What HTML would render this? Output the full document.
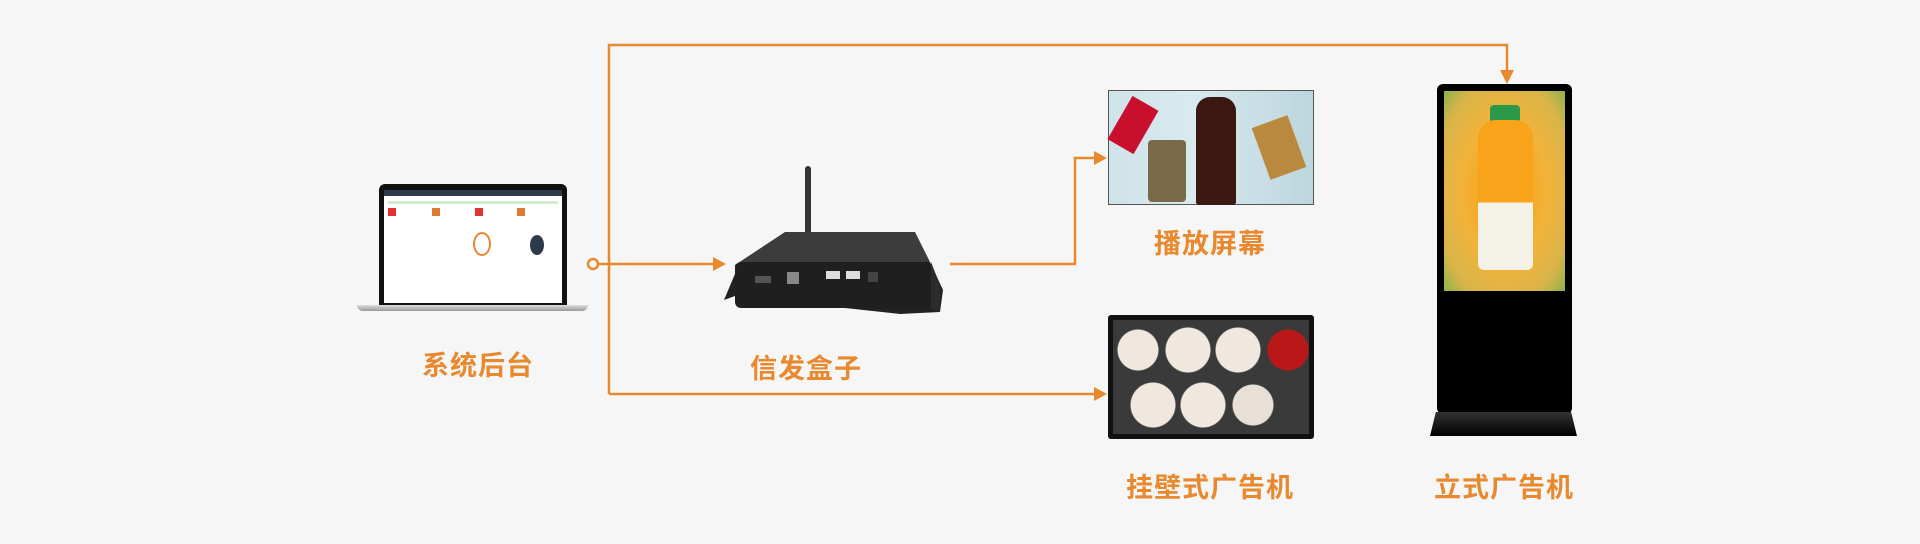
<!DOCTYPE html>
<html><head><meta charset="utf-8"><style>
body{margin:0;width:1920px;height:544px;background:#f6f6f6;position:relative;overflow:hidden;font-family:"Liberation Sans","Noto Sans CJK SC",sans-serif}
.a{position:absolute}
.lbl{position:absolute;color:#e8892f;font-size:27px;font-weight:bold;transform:translateX(-50%);white-space:nowrap;letter-spacing:1px}
</style></head><body>
<svg class="a" style="left:0;top:0" width="1920" height="544">
<g stroke="#e8892f" stroke-width="2.5" fill="none">
<polyline points="609,394 609,45 1507,45 1507,72"/>
<polyline points="609,394 1094,394"/>
<line x1="599" y1="264" x2="713" y2="264"/>
<polyline points="950,264 1075,264 1075,158 1094,158"/>
<circle cx="593" cy="264" r="5" fill="#f6f6f6"/>
</g>
<g fill="#e8892f">
<polygon points="1500,70 1514,70 1507,84"/>
<polygon points="713,257 713,271 726,264"/>
<polygon points="1094,151 1094,165 1107,158"/>
<polygon points="1094,387 1094,401 1107,394"/>
</g>
<!-- box -->
<rect x="805" y="166" width="6" height="118" rx="3" fill="#333"/>
<polygon points="735,265 785,232 915,232 930,262 930,300 735,290" fill="#3c3c3c"/>
<polygon points="724,300 740,262 930,262 943,290 940,312 900,314 735,296" fill="#222"/>
<rect x="735" y="262" width="196" height="46" rx="6" fill="#1f1f1f"/>
<polygon points="931,262 940,285 940,312 931,308" fill="#2c2c2c"/>
<rect x="755" y="276" width="16" height="7" fill="#555"/>
<rect x="787" y="272" width="12" height="12" fill="#888"/>
<rect x="826" y="271" width="14" height="8" fill="#ddd"/>
<rect x="846" y="271" width="14" height="8" fill="#ddd"/>
<rect x="868" y="272" width="10" height="10" fill="#444"/>
</svg>
<!-- laptop -->
<div class="a" style="left:379px;top:184px;width:188px;height:122px;background:#111;border-radius:6px 6px 0 0"></div>
<div class="a" style="left:384px;top:190px;width:178px;height:113px;background:#fff"></div>
<div class="a" style="left:384px;top:190px;width:178px;height:6px;background:#2d3a4a"></div>
<div class="a" style="left:388px;top:201px;width:170px;height:3px;background:#cfeccc"></div>
<div class="a" style="left:388px;top:208px;width:8px;height:8px;background:#e53333"></div>
<div class="a" style="left:432px;top:208px;width:8px;height:8px;background:#dd7a33"></div>
<div class="a" style="left:475px;top:208px;width:8px;height:8px;background:#e53333"></div>
<div class="a" style="left:517px;top:208px;width:8px;height:8px;background:#dd7a33"></div>
<div class="a" style="left:473px;top:232px;width:14px;height:20px;border:2px solid #e8892f;border-radius:50%"></div>
<div class="a" style="left:530px;top:235px;width:14px;height:20px;background:#2d3a4a;border-radius:50%"></div>
<div class="a" style="left:357px;top:305px;width:231px;height:6px;background:linear-gradient(#ddd,#999);border-radius:0 0 8px 8px"></div>
<!-- top screen -->
<div class="a" style="left:1108px;top:90px;width:206px;height:115px;background:linear-gradient(90deg,#cfe3ea,#d8eaee 40%,#bcd6de);border:1px solid #555;box-sizing:border-box"></div>
<div class="a" style="left:1118px;top:100px;width:30px;height:50px;background:#c8102e;transform:rotate(30deg)"></div>
<div class="a" style="left:1148px;top:140px;width:38px;height:62px;background:#7a6a4a;border-radius:4px"></div>
<div class="a" style="left:1196px;top:97px;width:40px;height:108px;background:#3b1810;border-radius:14px 14px 3px 3px"></div>
<div class="a" style="left:1260px;top:120px;width:38px;height:55px;background:#b9893f;transform:rotate(-20deg)"></div>
<!-- bottom screen -->
<div class="a" style="left:1108px;top:315px;width:206px;height:124px;background:#111;border-radius:3px"></div>
<div class="a" style="left:1113px;top:320px;width:196px;height:114px;background:radial-gradient(circle at 25px 30px,#f0e8de 20px,transparent 21px),radial-gradient(circle at 75px 30px,#f0e8de 22px,transparent 23px),radial-gradient(circle at 125px 30px,#f0e8de 22px,transparent 23px),radial-gradient(circle at 175px 30px,#b81818 20px,transparent 21px),radial-gradient(circle at 40px 85px,#f0e8de 22px,transparent 23px),radial-gradient(circle at 90px 85px,#f0e8de 22px,transparent 23px),radial-gradient(circle at 140px 85px,#e8e0d6 20px,transparent 21px),#3a3a3a"></div>
<!-- kiosk -->
<div class="a" style="left:1437px;top:84px;width:135px;height:330px;background:#000;border-radius:6px"></div>
<div class="a" style="left:1444px;top:91px;width:121px;height:200px;background:radial-gradient(ellipse at 50% 50%,#f7a11a 20%,#f2b33a 50%,#d9b44a 80%,#8fb34a)"></div>
<div class="a" style="left:1490px;top:105px;width:30px;height:18px;background:#2a9a4a;border-radius:4px"></div>
<div class="a" style="left:1478px;top:120px;width:55px;height:150px;background:linear-gradient(#f9a31a 55%,#f4f1e6 55%);border-radius:18px 18px 6px 6px"></div>
<div class="a" style="left:1430px;top:412px;width:147px;height:24px;background:linear-gradient(#333,#000);clip-path:polygon(4% 0,96% 0,100% 100%,0 100%)"></div>
<div class="lbl" style="left:478px;top:344px">系统后台</div>
<div class="lbl" style="left:806px;top:347px">信发盒子</div>
<div class="lbl" style="left:1210px;top:222px">播放屏幕</div>
<div class="lbl" style="left:1210px;top:466px">挂壁式广告机</div>
<div class="lbl" style="left:1504px;top:466px">立式广告机</div>
</body></html>
